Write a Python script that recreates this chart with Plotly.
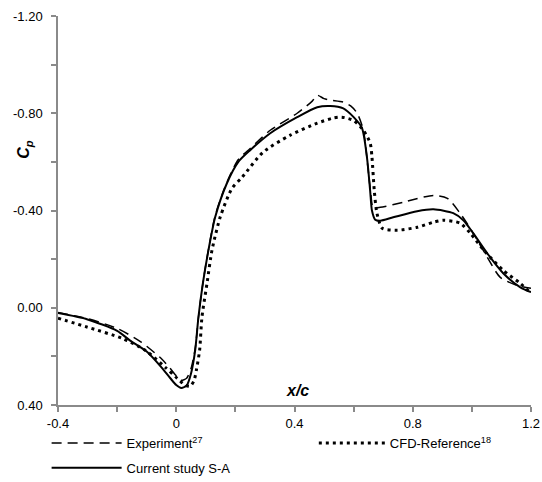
import plotly.graph_objects as go

# Current study S-A
sa_x = [-0.40, -0.30, -0.20, -0.156, -0.10, -0.05, -0.02, 0.00, 0.017, 0.035, 0.05, 0.064, 0.075,
        0.090, 0.109, 0.132, 0.171, 0.21, 0.25, 0.318, 0.409, 0.477, 0.521, 0.565, 0.60, 0.628,
        0.645, 0.656, 0.662, 0.673, 0.69, 0.734, 0.815, 0.87, 0.937, 0.971, 1.005, 1.052, 1.106,
        1.164, 1.20]
sa_cp = [0.022, 0.048, 0.095, 0.135, 0.18, 0.245, 0.29, 0.318, 0.330, 0.32, 0.27, 0.175, 0.04,
         -0.10, -0.237, -0.374, -0.511, -0.600, -0.648, -0.718, -0.784, -0.825, -0.830, -0.82,
         -0.784, -0.74, -0.62, -0.48, -0.40, -0.362, -0.358, -0.372, -0.397, -0.405, -0.389,
         -0.36, -0.306, -0.224, -0.142, -0.084, -0.064]

# Experiment
ex_x = [-0.40, -0.30, -0.20, -0.12, -0.05, -0.02, 0.00, 0.017, 0.035, 0.05, 0.065, 0.075, 0.09,
        0.109, 0.132, 0.171, 0.21, 0.25, 0.318, 0.409, 0.46, 0.477, 0.50, 0.521, 0.565, 0.59,
        0.612, 0.633, 0.648, 0.658, 0.666, 0.69, 0.768, 0.87, 0.917, 0.96, 1.005, 1.052, 1.096,
        1.153, 1.20]
ex_cp = [0.020, 0.045, 0.085, 0.14, 0.21, 0.25, 0.28, 0.298, 0.29, 0.25, 0.16, 0.04, -0.10,
         -0.24, -0.38, -0.515, -0.61, -0.655, -0.73, -0.80, -0.85, -0.874, -0.86, -0.854, -0.846,
         -0.83, -0.80, -0.73, -0.58, -0.47, -0.413, -0.413, -0.434, -0.462, -0.45, -0.389,
         -0.306, -0.208, -0.125, -0.092, -0.08]

# CFD-Reference
cfd_x = [-0.40, -0.30, -0.183, -0.105, -0.037, 0.003, 0.03, 0.047, 0.06, 0.068, 0.079, 0.087,
         0.104, 0.121, 0.149, 0.188, 0.223, 0.294, 0.386, 0.477, 0.53, 0.56, 0.60, 0.633, 0.656,
         0.662, 0.670, 0.679, 0.697, 0.748, 0.815, 0.87, 0.903, 0.96, 0.995, 1.04, 1.106, 1.164,
         1.20]
cfd_cp = [0.043, 0.08, 0.126, 0.175, 0.245, 0.29, 0.318, 0.323, 0.30, 0.257, 0.175, 0.038,
          -0.10, -0.237, -0.374, -0.49, -0.537, -0.64, -0.71, -0.759, -0.78, -0.784, -0.77,
          -0.73, -0.677, -0.62, -0.48, -0.388, -0.327, -0.319, -0.331, -0.352, -0.36, -0.348,
          -0.306, -0.237, -0.154, -0.10, -0.06]

x_tickvals = [-0.4, 0, 0.4, 0.8, 1.2]
x_ticktext = ["-0.4", "0", "0.4", "0.8", "1.2"]
y_tickvals = [-1.2, -0.8, -0.4, 0.0, 0.4]
y_ticktext = ["-1.20", "-0.80", "-0.40", "0.00", "0.40"]

FONT = "Liberation Sans, Arial, sans-serif"

fig = go.Figure()
fig.add_trace(go.Scatter(x=ex_x, y=ex_cp, mode="lines", name="Experiment<sup>27</sup>",
                         line=dict(color="black", width=1.5, dash="10px,6px", shape="spline", smoothing=0.7),
                         legend="legend", legendgroup="a"))
fig.add_trace(go.Scatter(x=cfd_x, y=cfd_cp, mode="lines", name="CFD-Reference<sup>18</sup>",
                         line=dict(color="black", width=3, dash="3px,4px", shape="spline", smoothing=0.7),
                         legend="legend2"))
fig.add_trace(go.Scatter(x=sa_x, y=sa_cp, mode="lines", name="Current study S-A",
                         line=dict(color="black", width=2, shape="spline", smoothing=0.7),
                         legend="legend", legendgroup="b"))

axis_common = dict(showline=True, linecolor="#8a8a8a", linewidth=1.5, showgrid=False, zeroline=False,
                   ticks="outside", ticklen=5, tickcolor="#8a8a8a", tickwidth=1.5,
                   tickfont=dict(family=FONT, size=13, color="black"))

fig.update_xaxes(range=[-0.4, 1.2], tickvals=x_tickvals, ticktext=x_ticktext, ticklabelstandoff=1,
                 minor=dict(dtick=0.2, tick0=0, ticks="outside", ticklen=5, tickcolor="#8a8a8a", tickwidth=1.5),
                 **axis_common)
fig.update_yaxes(range=[0.4, -1.2], tickvals=y_tickvals, ticktext=y_ticktext, ticklabelstandoff=6,
                 minor=dict(dtick=0.2, tick0=0, ticks="outside", ticklen=5, tickcolor="#8a8a8a", tickwidth=1.5),
                 **axis_common)

fig.add_annotation(x=0.41, y=0.34, xref="x", yref="y", text="<b><i>x/c</i></b>", showarrow=False,
                   font=dict(family=FONT, size=16, color="black"))
fig.add_annotation(x=-0.094, y=0.656, xref="paper", yref="paper", text="<b><i>C<sub>p</sub></i></b>",
                   showarrow=False, textangle=-90, font=dict(family=FONT, size=16, color="black"))

fig.update_layout(
    width=542, height=482,
    margin=dict(l=58, r=11, t=16, b=77, autoexpand=False),
    paper_bgcolor="white", plot_bgcolor="white",
    font=dict(family=FONT, size=13, color="black"),
    legend=dict(x=0.086, y=0.112, xref="container", yref="container", xanchor="left", yanchor="top",
                orientation="v", itemwidth=70, tracegroupgap=5,
                font=dict(family=FONT, size=13, color="black"), bgcolor="rgba(0,0,0,0)"),
    legend2=dict(x=0.579, y=0.112, xref="container", yref="container", xanchor="left", yanchor="top",
                 orientation="v", itemwidth=66,
                 font=dict(family=FONT, size=13, color="black"), bgcolor="rgba(0,0,0,0)"),
)

fig.write_html("out.html")
